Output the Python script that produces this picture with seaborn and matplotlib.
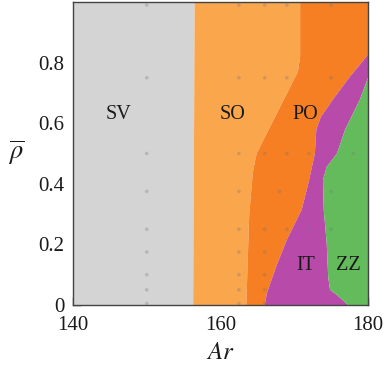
import numpy as np
import pandas as pd
import matplotlib
matplotlib.use("Agg")
import matplotlib.pyplot as plt
import seaborn as sns
from matplotlib.ticker import MultipleLocator

# ---------------- data ----------------
# regime labels and colours
regimes = ["SV", "SO", "PO", "IT", "ZZ"]
regime_colors = ["#d4d4d4", "#f9a64d", "#f57f22", "#b84aaa", "#64bb5b"]
label_ar = [146.2, 161.6, 171.5, 171.5, 177.3]
label_rho = [0.63, 0.63, 0.63, 0.13, 0.13]

# boundaries (Ar as function of rho)
b_left_rho = [0.0, 1.0]
b_left_ar = [140.0, 140.0]

b_sv_so_rho = [0.0, 1.0]
b_sv_so_ar = [156.3, 156.5]

b_so_po_rho = [0.0, 0.30, 0.44, 0.50, 0.77, 0.82, 1.0]
b_so_po_ar = [163.5, 163.9, 164.4, 164.9, 170.5, 170.8, 170.8]

b_po_it_rho = [0.0, 0.04, 0.13, 0.215, 0.314, 0.40, 0.50, 0.58, 0.62, 0.68, 0.755, 0.79, 0.826, 1.0]
b_po_it_ar = [166.0, 166.3, 167.6, 169.0, 171.0, 171.9, 172.8, 173.0, 173.6, 175.3, 177.6, 178.8, 180.0, 180.0]

b_it_zz_rho = [0.0, 0.033, 0.05, 0.094, 0.204, 0.314, 0.413, 0.456, 0.50, 0.579, 0.678, 0.75, 1.0]
b_it_zz_ar = [177.3, 175.8, 174.85, 174.6, 174.4, 174.0, 173.9, 174.4, 175.8, 176.9, 178.9, 180.0, 180.0]

b_right_rho = [0.0, 1.0]
b_right_ar = [180.0, 180.0]

# simulation points
pts_ar = ([150.0] * 9 + [162.5] * 9 + [166.0] * 8 + [169.0] * 4 + [168.0] + [172.0] * 2
          + [175.0] * 4 + [178.0])
pts_rho = ([0.99, 0.75, 0.5, 0.375, 0.25, 0.175, 0.1, 0.05, 0.005] * 2
           + [0.99, 0.75, 0.5, 0.25, 0.175, 0.1, 0.05, 0.005]
           + [0.99, 0.75, 0.5, 0.25] + [0.375] + [0.5, 0.25]
           + [0.99, 0.75, 0.375, 0.25] + [0.5])

x_ticks = [140, 160, 180]
y_ticks = [0, 0.2, 0.4, 0.6, 0.8]
y_ticklabels = ["0", "0.2", "0.4", "0.6", "0.8"]

# ---------------- plot ----------------
sns.set_theme(style="ticks")
plt.rcParams["font.family"] = ["Liberation Serif", "DejaVu Serif"]
plt.rcParams["mathtext.fontset"] = "stix"

fig = plt.figure(figsize=(3.84, 3.65), dpi=100)
ax = fig.add_axes([73 / 384, 1 - 305 / 365, 295 / 384, 303 / 365])

bounds = [
    (b_left_ar, b_left_rho),
    (b_sv_so_ar, b_sv_so_rho),
    (b_so_po_ar, b_so_po_rho),
    (b_po_it_ar, b_po_it_rho),
    (b_it_zz_ar, b_it_zz_rho),
    (b_right_ar, b_right_rho),
]
for i, col in enumerate(regime_colors):
    a1, r1 = bounds[i]
    a2, r2 = bounds[i + 1]
    xs = list(a1) + list(a2)[::-1]
    ys = list(r1) + list(r2)[::-1]
    ax.fill(xs, ys, color=col, lw=0, zorder=1)

df = pd.DataFrame({"Ar": pts_ar, "rho": pts_rho})
sns.scatterplot(data=df, x="Ar", y="rho", ax=ax, s=7, color="#777777",
                alpha=0.3, edgecolor="none", zorder=2, legend=False)

for name, xa, yr in zip(regimes, label_ar, label_rho):
    ax.text(xa, yr, name, ha="center", va="center", fontsize=14.5,
            color="#1a1a1a", zorder=3)

ax.set_xlim(140, 180)
ax.set_ylim(0, 1.0)
ax.set_xticks(x_ticks)
ax.set_yticks(y_ticks)
ax.set_yticklabels(y_ticklabels)
ax.xaxis.set_minor_locator(MultipleLocator(4))
ax.yaxis.set_minor_locator(MultipleLocator(0.05))
ax.tick_params(which="major", direction="in", length=6, width=1.0,
               color="#333333", labelsize=15, labelcolor="#1a1a1a")
ax.tick_params(axis="x", which="major", pad=8)
ax.tick_params(axis="y", which="major", pad=6)
ax.tick_params(which="minor", direction="in", length=3, width=0.6,
               color="#777777")
ax.tick_params(top=False, right=False, which="both")
for sp in ax.spines.values():
    sp.set_visible(True)
    sp.set_color("#444444")
    sp.set_linewidth(1.0)

ax.set_xlabel("$Ar$", fontsize=18, labelpad=5, color="#1a1a1a")
ax.set_ylabel("")
fig.text(16 / 384, 1 - 153 / 365, r"$\overline{\rho}$", fontsize=19,
         ha="center", va="center", color="#1a1a1a")

fig.savefig("out.png", dpi=100)
